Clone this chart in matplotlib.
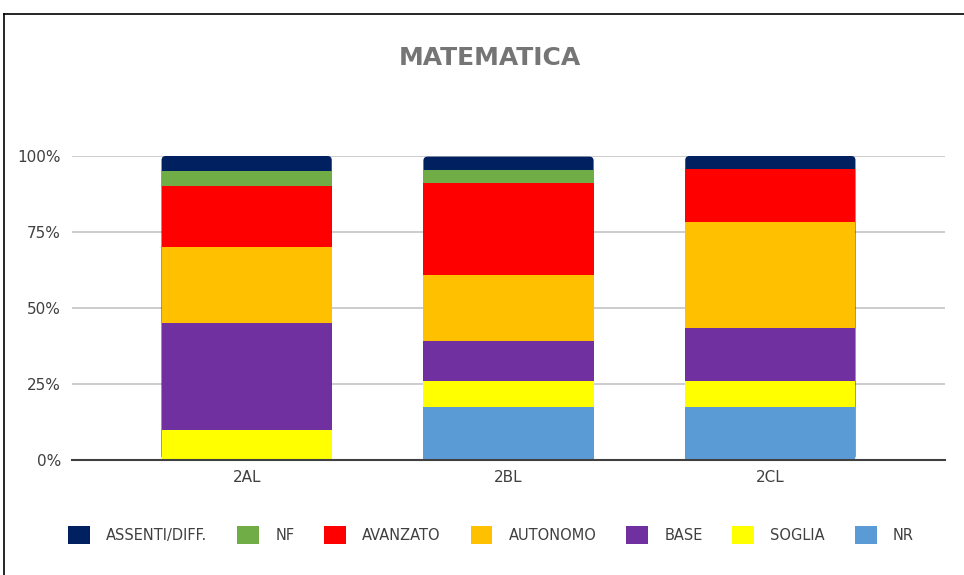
import matplotlib.pyplot as plt
from matplotlib.patches import Patch, FancyBboxPatch
from matplotlib.lines import Line2D

plt.rcParams['font.family'] = ['DejaVu Sans']

# Dati (percentuali per classe)
classi = ["2AL", "2BL", "2CL"]
nr = [0, 17.4, 17.4]
soglia = [10, 8.7, 8.7]
base = [35, 13.0, 17.4]
autonomo = [25, 21.7, 34.8]
avanzato = [20, 30.4, 17.4]
nf = [5, 4.3, 0]
assenti = [5, 4.3, 4.3]

serie = [nr, soglia, base, autonomo, avanzato, nf, assenti]
nomi = ["NR", "SOGLIA", "BASE", "AUTONOMO", "AVANZATO", "NF", "ASSENTI/DIFF."]
colori = ["#5B9BD5", "#FFFF00", "#7030A0", "#FFC000", "#FF0000", "#70AD47", "#002060"]

W, H = 964, 575
fig = plt.figure(figsize=(W / 100, H / 100), dpi=100)
ax = fig.add_axes([72 / W, 1 - 460 / H, (945 - 72) / W, (460 - 156) / H])

x = list(range(len(classi)))
larghezza = 0.65

# barra di sfondo arrotondata con il colore dell'ultima serie (angoli in alto)
for i in x:
    totale = sum(s[i] for s in serie)
    box = FancyBboxPatch((i - larghezza / 2, 0), larghezza, totale,
                         boxstyle="round,pad=0,rounding_size=0.016",
                         mutation_aspect=85, facecolor=colori[-1],
                         edgecolor="none", zorder=2)
    ax.add_patch(box)

fondo = [0] * len(classi)
for s, nome, col in zip(serie[:-1], nomi[:-1], colori[:-1]):
    ax.bar(x, s, larghezza, bottom=fondo, color=col, zorder=3)
    fondo = [a + b for a, b in zip(fondo, s)]

ax.set_xlim(-0.667, 2.667)
ax.set_ylim(0, 100)
ax.set_yticks([0, 25, 50, 75, 100])
ax.set_yticklabels(["0%", "25%", "50%", "75%", "100%"])
ax.set_xticks(x)
ax.set_xticklabels(classi)
ax.tick_params(length=0, labelsize=11, colors="#404040", pad=8)
ax.tick_params(axis="x", pad=7)
ax.yaxis.grid(True, color="#C8C8C8", linewidth=1.3, zorder=0)
ax.set_axisbelow(True)
for lato in ["top", "right", "left"]:
    ax.spines[lato].set_visible(False)
ax.spines["bottom"].set_color("#404040")
ax.spines["bottom"].set_linewidth(1.5)
ax.spines["bottom"].set_zorder(5)

fig.text(490 / W, 1 - 58 / H, "MATEMATICA", ha="center", va="center",
         fontsize=18, fontweight="bold", color="#757575")

# legenda in basso
maniglie = [Patch(facecolor=c, edgecolor="none") for c in colori[::-1]]
fig.legend(maniglie, nomi[::-1], loc="center", bbox_to_anchor=(491 / W, 1 - 535 / H),
           ncol=7, frameon=False, fontsize=10.5, handlelength=1.5, handleheight=1.6,
           handletextpad=1.1, columnspacing=2.05, labelcolor="#404040")

# cornice
fig.add_artist(Line2D([4 / W, 4 / W], [0, 1 - 14 / H], color="black", linewidth=1.2))
fig.add_artist(Line2D([4 / W, 1], [1 - 14 / H, 1 - 14 / H], color="black", linewidth=1.2))

fig.savefig("out.png", dpi=100)
